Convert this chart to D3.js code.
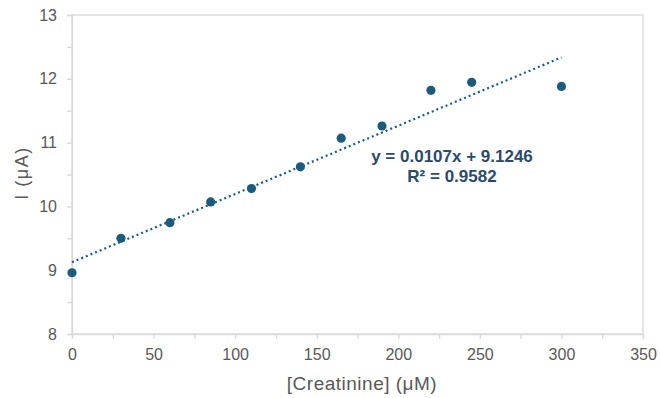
<!DOCTYPE html>
<html><head><meta charset="utf-8">
<script src="https://cdn.jsdelivr.net/npm/d3@7"></script>
<style>body{margin:0;background:#fff}svg{display:block}text{font-family:"Liberation Sans",Arial,sans-serif}</style>
</head><body><svg id="c" width="660" height="398"></svg>
<script>
const concentrations = [0, 30, 60, 85, 110, 140, 165, 190, 220, 245, 300];
const currents = [8.96, 9.50, 9.745, 10.07, 10.28, 10.62, 11.07, 11.26, 11.82, 11.945, 11.88];
const trendSlope = 0.0107, trendIntercept = 9.1246;
const equationLines = ["y = 0.0107x + 9.1246", "R² = 0.9582"];
const xTicks = [0, 50, 100, 150, 200, 250, 300, 350];
const yTicks = [8, 9, 10, 11, 12, 13];
const xLabel = "[Creatinine] (μM)", yLabel = "I (μA)";

const svg = d3.select("#c");
const L = 72, T = 15, R = 643, B = 334;
const x = d3.scaleLinear().domain([0, 350]).range([L, R]);
const y = d3.scaleLinear().domain([8, 13]).range([B, T]);
const grid = "#d9d9d9", txt = "#595959", mark = "#1b5c7e";

svg.append("rect").attr("x", L).attr("y", T).attr("width", R - L).attr("height", B - T)
  .attr("fill", "none").attr("stroke", grid).attr("stroke-width", 1.3);

const xa = svg.append("g").attr("transform", `translate(0,${B})`)
  .call(d3.axisBottom(x).tickValues(d3.range(0, 351, 25)).tickSize(5).tickFormat(d => xTicks.includes(d) ? d : ""));
xa.select(".domain").attr("stroke", grid).attr("stroke-width", 1.3);
xa.selectAll(".tick line").attr("stroke", grid).attr("stroke-width", 1.3);
xa.selectAll(".tick text").attr("fill", txt).attr("font-size", 16).attr("dy", "1.15em");

const ya = svg.append("g").attr("transform", `translate(${L},0)`)
  .call(d3.axisLeft(y).tickValues(d3.range(8, 13.01, 0.5)).tickSize(5).tickFormat(d => yTicks.includes(d) ? d : ""));
ya.select(".domain").attr("stroke", grid).attr("stroke-width", 1.3);
ya.selectAll(".tick line").attr("stroke", grid).attr("stroke-width", 1.3);
ya.selectAll(".tick text").attr("fill", txt).attr("font-size", 16).attr("x", -15);

const tx = [0, 300];
svg.append("line")
  .attr("x1", x(tx[0])).attr("y1", y(trendSlope * tx[0] + trendIntercept))
  .attr("x2", x(tx[1])).attr("y2", y(trendSlope * tx[1] + trendIntercept))
  .attr("stroke", mark).attr("stroke-width", 2.2).attr("stroke-dasharray", "2,3");

svg.append("g").selectAll("circle").data(concentrations).join("circle")
  .attr("cx", d => x(d)).attr("cy", (d, i) => y(currents[i])).attr("r", 4.6).attr("fill", mark);

svg.append("g").selectAll("text").data(equationLines).join("text")
  .attr("x", 452).attr("y", (d, i) => 162 + i * 20).attr("text-anchor", "middle")
  .attr("font-size", 17).attr("font-weight", "bold").attr("fill", "#2b4a6c").text(d => d);

svg.append("text").attr("x", 362).attr("y", 390).attr("text-anchor", "middle")
  .attr("font-size", 19).attr("letter-spacing", 0.5).attr("fill", txt).text(xLabel);
svg.append("text").attr("transform", "translate(28,173) rotate(-90)").attr("text-anchor", "middle")
  .attr("font-size", 18).attr("letter-spacing", 1.5).attr("fill", txt).text(yLabel);
</script></body></html>
